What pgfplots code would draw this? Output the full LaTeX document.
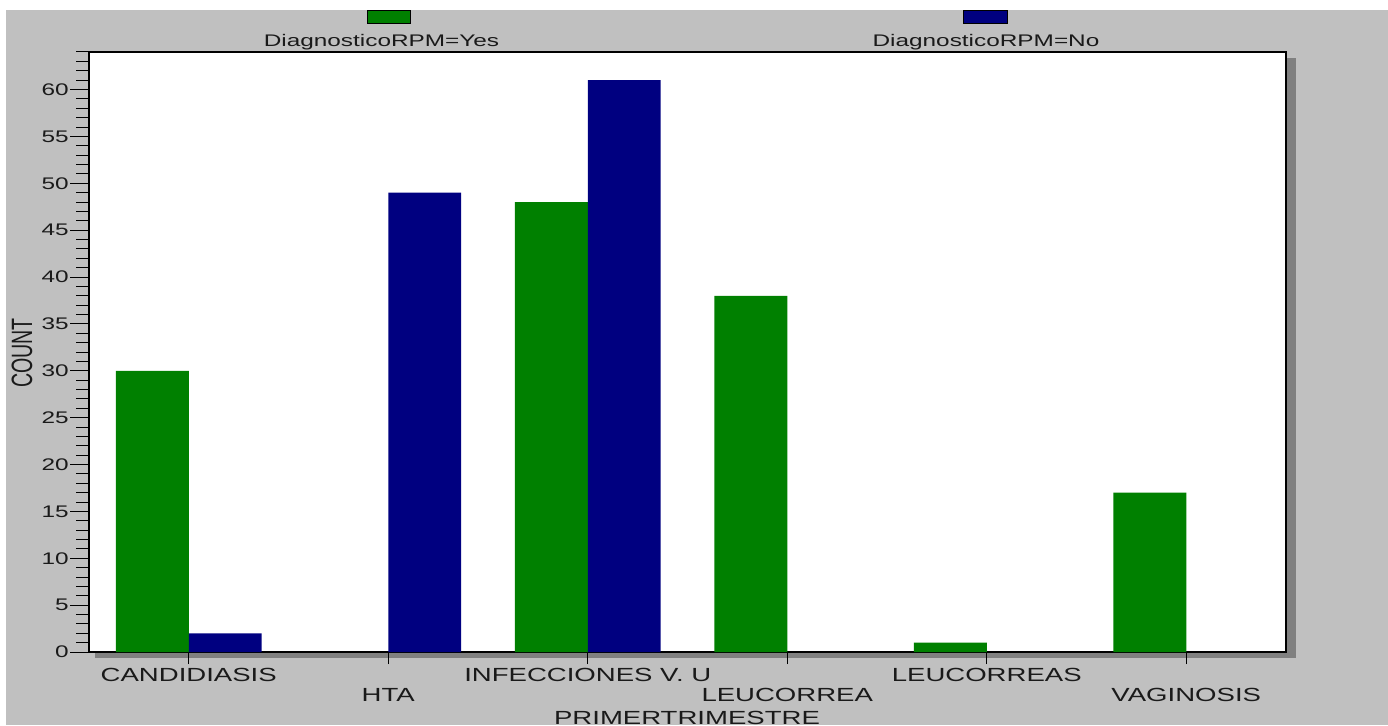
\documentclass[border=0pt]{standalone}
\usepackage{pgfplots}
\pgfplotsset{compat=1.18}
\usepackage{fontspec}
\setmainfont{Liberation Sans}[FakeStretch=1.45]
\newfontfamily\plainfont{Liberation Sans}
\definecolor{bggray}{HTML}{C0C0C0}
\definecolor{shgray}{HTML}{808080}
\definecolor{cyes}{HTML}{008000}
\definecolor{cno}{HTML}{000080}
\definecolor{txt}{HTML}{1A1A1A}
\begin{document}
\begin{tikzpicture}[x=1pt,y=1pt]
\path[use as bounding box] (0,0) rectangle (694,362.5);
\fill[white] (0,0) rectangle (694,362.5);
\fill[bggray] (3,0) rectangle (694,357.5);
\fill[shgray] (47.5,33.5) rectangle (648,333.5);
% legend
\fill[cyes,draw=black,line width=0.5pt] (183.5,350.5) rectangle (205,357);
\node[font=\fontsize{8.4}{10}\selectfont, text=txt] at (190.75,341.5) {DiagnosticoRPM=Yes};
\fill[cno,draw=black,line width=0.5pt] (481.5,350.5) rectangle (503.5,357);
\node[font=\fontsize{8.4}{10}\selectfont, text=txt] at (493,341.5) {DiagnosticoRPM=No};
% y label
\node[rotate=90, text=txt] at (11,186) {\scalebox{1}[1.5]{\plainfont\fontsize{9.8}{11}\selectfont COUNT}};
% x label
\node[font=\fontsize{9.5}{11}\selectfont, text=txt, anchor=north] at (343.5,10.5) {PRIMERTRIMESTRE};
\begin{axis}[
  at={(44.5pt,36.5pt)}, anchor=south west,
  scale only axis, width=598.5pt, height=300pt,
  xmin=-0.5, xmax=5.5, ymin=0, ymax=64,
  axis background/.style={fill=white},
  axis line style={black, line width=0.8pt},
  xtick={0,...,5},
  xticklabels={CANDIDIASIS,HTA,INFECCIONES V. U,LEUCORREA,LEUCORREAS,VAGINOSIS},
  ytick={0,5,...,60},
  minor ytick={0,1,...,64},
  tick align=outside,
  major tick length=9.5pt, minor tick length=6.5pt,
  xtick style={/pgfplots/major tick length=6pt},
  tick style={black, line width=0.5pt},
  xtick pos=bottom, ytick pos=left,
  restrict y to domain=0.01:1000,
  /pgf/number format/assume math mode=true,
  x tick label style={font=\fontsize{9.5}{11}\selectfont, text=txt, anchor=center, inner sep=0pt, yshift={-2pt-10pt*mod(\ticknum,2)}},
  y tick label style={font=\fontsize{8.4}{10}\selectfont, text=txt, anchor=east, inner sep=0pt, xshift=-0.5pt},
]
\addplot[ybar, bar width=0.365, bar shift=-0.1825, fill=cyes, draw=none]
  coordinates {(0,30) (1,0) (2,48) (3,38) (4,1) (5,17)};
\addplot[ybar, bar width=0.365, bar shift=0.1825, fill=cno, draw=none]
  coordinates {(0,2) (1,49) (2,61) (3,0) (4,0) (5,0)};
\end{axis}
\end{tikzpicture}
\end{document}
